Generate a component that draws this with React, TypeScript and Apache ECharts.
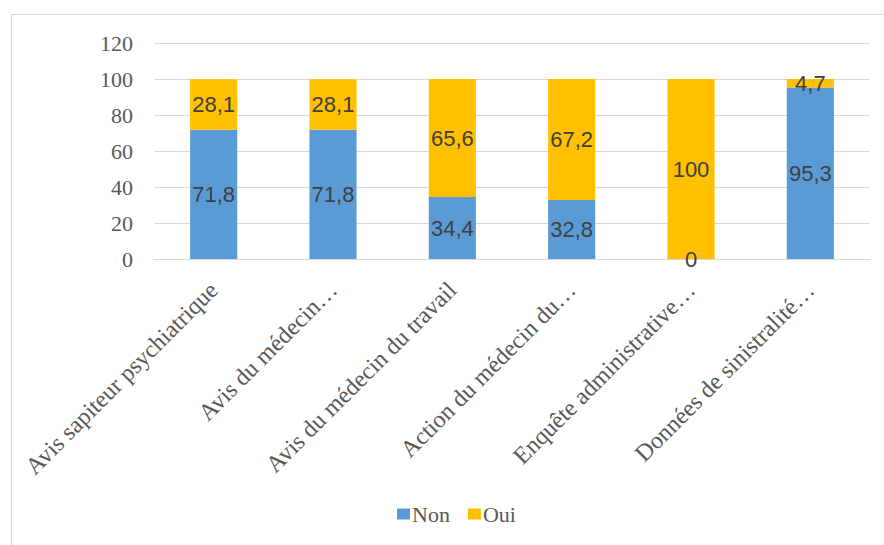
import React, { useEffect, useRef } from "react";
import * as echarts from "echarts";

const categories = [
  "Avis sapiteur psychiatrique",
  "Avis du médecin…",
  "Avis du médecin du travail",
  "Action du médecin du…",
  "Enquête administrative…",
  "Données de sinistralité…",
];
const nonValues = [71.8, 71.8, 34.4, 32.8, 0, 95.3];
const ouiValues = [28.1, 28.1, 65.6, 67.2, 100, 4.7];
const seriesNames = ["Non", "Oui"];
const colors = ["#5B9BD5", "#FFC000"];

const fmt = (v: number) => String(v).replace(".", ",");

export default function App() {
  const ref = useRef<HTMLDivElement>(null);
  useEffect(() => {
    if (!ref.current) return;
    const chart = echarts.init(ref.current, null, { renderer: "svg" });
    const serif = "Liberation Serif";
    const sans = "Liberation Sans";
    const labelStyle = {
      show: true,
      position: "inside" as const,
      color: "#404040",
      fontFamily: sans,
      fontSize: 22,
      formatter: (p: any) => fmt(p.value),
    };
    chart.setOption({
      animation: false,
      backgroundColor: "#ffffff",
      textStyle: { fontFamily: serif, fontSize: 22 },
      graphic: [
        {
          type: "rect",
          shape: { x: 11.5, y: 14.5, width: 900, height: 600 },
          style: { fill: "none", stroke: "#d9d9d9", lineWidth: 1 },
          silent: true,
          z: -10,
        },
      ],
      grid: { left: 154, right: 14, top: 43, bottom: 286, containLabel: false },
      legend: {
        bottom: 15,
        left: 392,
        itemWidth: 13,
        itemHeight: 11,
        itemGap: 18,
        icon: "rect",
        textStyle: { fontFamily: serif, fontSize: 22, color: "#595959", padding: [0, 0, 0, -3] },
        data: seriesNames,
      },
      xAxis: {
        type: "category",
        data: categories,
        axisLine: { show: true, lineStyle: { color: "#d9d9d9", width: 1 } },
        axisTick: { show: false },
        axisLabel: {
          rotate: 45,
          interval: 0,
          margin: 27,
          fontFamily: serif,
          fontSize: 24,
          color: "#595959",
        },
      },
      yAxis: {
        type: "value",
        min: 0,
        max: 120,
        interval: 20,
        axisLine: { show: false },
        axisTick: { show: false },
        splitLine: { lineStyle: { color: "#d9d9d9", width: 1 } },
        axisLabel: {
          margin: 21,
          fontFamily: serif,
          fontSize: 22,
          color: "#595959",
        },
      },
      series: [
        {
          name: seriesNames[0],
          type: "bar",
          stack: "total",
          data: nonValues,
          barWidth: "39.5%",
          itemStyle: { color: colors[0] },
          label: labelStyle,
        },
        {
          name: seriesNames[1],
          type: "bar",
          stack: "total",
          data: ouiValues,
          barWidth: "39.5%",
          itemStyle: { color: colors[1] },
          label: labelStyle,
        },
      ],
    });
    return () => chart.dispose();
  }, []);
  return (
    <div
      ref={ref}
      style={{ position: "fixed", left: 0, top: 0, width: 884, height: 545 }}
    />
  );
}
